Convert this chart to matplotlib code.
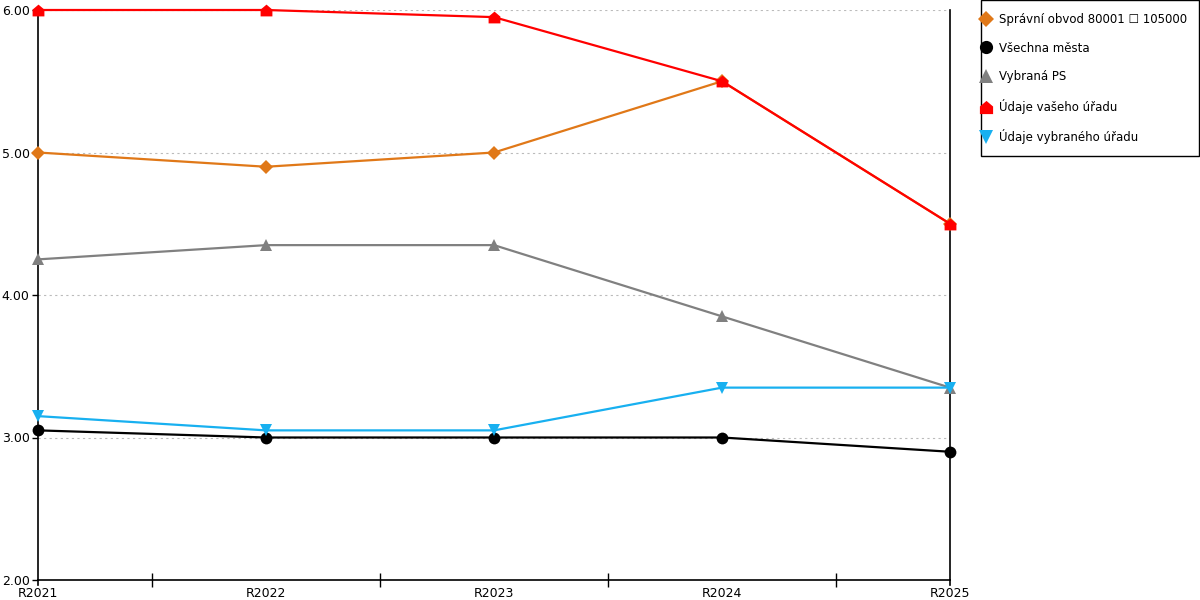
import matplotlib
matplotlib.use("Agg")
import matplotlib.pyplot as plt
from matplotlib.path import Path
from matplotlib.lines import Line2D
from matplotlib.patches import Rectangle

categories = ["R2021", "R2022", "R2023", "R2024", "R2025"]
spravni_obvod = [5.00, 4.90, 5.00, 5.50, 4.50]
vsechna_mesta = [3.05, 3.00, 3.00, 3.00, 2.90]
vybrana_ps = [4.25, 4.35, 4.35, 3.85, 3.35]
vas_urad = [6.00, 6.00, 5.95, 5.50, 4.50]
vybrany_urad = [3.15, 3.05, 3.05, 3.35, 3.35]
y_ticks = [2.0, 3.0, 4.0, 5.0, 6.0]

labels = ["Správní obvod 80001 \u2610 105000", "Všechna města", "Vybraná PS",
          "Údaje vašeho úřadu", "Údaje vybraného úřadu"]

house = Path([(-1, -1), (1, -1), (1, 0.15), (0, 1), (-1, 0.15), (-1, -1)],
             [Path.MOVETO, Path.LINETO, Path.LINETO, Path.LINETO, Path.LINETO, Path.CLOSEPOLY])

series = [
    (spravni_obvod, "#E07818", "D", 7),
    (vsechna_mesta, "#000000", "o", 8.5),
    (vybrana_ps, "#808080", "^", 8.5),
    (vas_urad, "#FF0000", house, 8.5),
    (vybrany_urad, "#18B0F0", "v", 8.5),
]

plt.rcParams["font.family"] = ["DejaVu Sans"]
fig = plt.figure(figsize=(12, 6), dpi=100)
ax = fig.add_axes([38 / 1200, 20 / 600, (950 - 38) / 1200, 570 / 600])

x = list(range(len(categories)))
handles = []
for (vals, col, mk, ms), lab in zip(series, labels):
    ax.plot(x, vals, color=col, lw=1.6, marker=mk, markersize=ms,
            markeredgewidth=0, clip_on=False, zorder=3)
    handles.append(Line2D([], [], color=col, marker=mk, linestyle="none",
                          markersize=ms + 1, markeredgewidth=0))

ax.set_xlim(0, len(categories) - 1)
ax.set_ylim(2, 6)
ax.set_yticks(y_ticks)
ax.set_yticklabels([f"{v:.2f}" for v in y_ticks], fontsize=9)
ax.set_xticks(x)
ax.set_xticklabels(categories, fontsize=9)
ax.set_xticks([i + 0.5 for i in x[:-1]], minor=True)
ax.tick_params(axis="x", which="major", length=0, pad=5)
ax.tick_params(axis="x", which="minor", length=10, direction="inout", width=1)
ax.tick_params(axis="y", which="major", length=4, direction="out", pad=2, width=1)
ax.yaxis.grid(True, linestyle=(0, (2, 3)), color="#BBBBBB", lw=0.8)
ax.set_axisbelow(True)

ax.spines["top"].set_visible(False)
for s in ["left", "right", "bottom"]:
    ax.spines[s].set_color("black")
    ax.spines[s].set_linewidth(1.2)
ax.spines["right"].set_bounds(2, 6)
for xe in (0, len(categories) - 1):
    ax.plot([xe, xe], [2, 1.965], color="black", lw=1.2, clip_on=False)

leg = fig.legend(handles, labels, loc="upper left",
                 bbox_to_anchor=(981 / 1200, 1 - 13 / 600),
                 frameon=False, fontsize=8.5, handlelength=0.8, handletextpad=0.75,
                 labelspacing=1.32, borderpad=0, borderaxespad=0)
fig.patches.append(Rectangle((980.5 / 1200, 1 - 155.5 / 600), 218.5 / 1200, 155 / 600,
                             transform=fig.transFigure, fill=False,
                             edgecolor="black", lw=1.0))

fig.savefig("out.png", dpi=100)
